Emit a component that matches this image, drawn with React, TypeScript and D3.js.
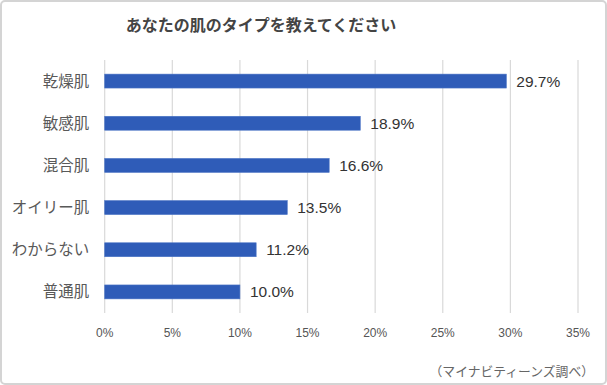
import { useEffect, useRef } from 'react';
import * as d3 from 'd3';

const categories = ['乾燥肌', '敏感肌', '混合肌', 'オイリー肌', 'わからない', '普通肌'];
const values = [29.7, 18.9, 16.6, 13.5, 11.2, 10.0];
const tickValues = [0, 5, 10, 15, 20, 25, 30, 35];

const title = 'あなたの肌のタイプを教えてください';
const source = '（マイナビティーンズ調べ）';

const W = 607;
const H = 385;
const jpFont = '"Noto Sans CJK JP", "Noto Sans", sans-serif';
const numFont = '"Liberation Sans", Arial, sans-serif';

export default function App() {
  const svgRef = useRef<SVGSVGElement>(null);

  useEffect(() => {
    if (!svgRef.current) return;
    const svg = d3.select(svgRef.current);
    svg.selectAll('*').remove();

    const margin = { top: 60, right: 29, bottom: 72, left: 104.7 };
    const innerWidth = W - margin.left - margin.right;
    const innerHeight = H - margin.top - margin.bottom;

    // frame
    svg.append('rect')
      .attr('x', 1)
      .attr('y', 1)
      .attr('width', W - 2)
      .attr('height', H - 2)
      .attr('rx', 4)
      .attr('fill', '#fff')
      .attr('stroke', '#d4d4d4')
      .attr('stroke-width', 2);

    svg.append('text')
      .attr('x', 261)
      .attr('y', 31)
      .attr('text-anchor', 'middle')
      .attr('font-family', jpFont)
      .attr('font-size', 16)
      .attr('font-weight', 'bold')
      .attr('fill', '#444')
      .text(title);

    const g = svg.append('g')
      .attr('transform', `translate(${margin.left}, ${margin.top})`);

    const x = d3.scaleLinear().domain([0, 35]).range([0, innerWidth]);
    const y = d3.scaleBand()
      .domain(categories)
      .range([0, innerHeight])
      .paddingInner(0.67)
      .paddingOuter(0.335);

    // grid
    g.selectAll('.grid')
      .data(tickValues)
      .enter()
      .append('line')
      .attr('x1', d => x(d))
      .attr('x2', d => x(d))
      .attr('y1', 0)
      .attr('y2', innerHeight)
      .attr('stroke', '#d9d9d9')
      .attr('stroke-width', 1.2);

    // x tick labels
    g.selectAll('.tick-label')
      .data(tickValues)
      .enter()
      .append('text')
      .attr('x', d => x(d))
      .attr('y', innerHeight + 24)
      .attr('text-anchor', 'middle')
      .attr('font-family', numFont)
      .attr('font-size', 12)
      .attr('fill', '#555')
      .text(d => `${d}%`);

    // bars
    g.selectAll('.bar')
      .data(values)
      .enter()
      .append('rect')
      .attr('x', 0)
      .attr('y', (_, i) => y(categories[i]) || 0)
      .attr('width', d => x(d))
      .attr('height', y.bandwidth())
      .attr('fill', '#2f5cb8')
      .attr('stroke', '#4a73c4')
      .attr('stroke-width', 0.6);

    // value labels
    g.selectAll('.value')
      .data(values)
      .enter()
      .append('text')
      .attr('x', d => x(d) + 10)
      .attr('y', (_, i) => (y(categories[i]) || 0) + y.bandwidth() / 2)
      .attr('dy', '0.36em')
      .attr('font-family', numFont)
      .attr('font-size', 15.5)
      .attr('fill', '#333')
      .text(d => `${d.toFixed(1)}%`);

    // category labels
    g.selectAll('.cat')
      .data(categories)
      .enter()
      .append('text')
      .attr('x', -15.5)
      .attr('y', d => (y(d) || 0) + y.bandwidth() / 2)
      .attr('dy', '0.36em')
      .attr('text-anchor', 'end')
      .attr('font-family', jpFont)
      .attr('font-size', 15.5)
      .attr('fill', '#595959')
      .text(d => d);

    // source note
    svg.append('text')
      .attr('x', 594)
      .attr('y', 376)
      .attr('text-anchor', 'end')
      .attr('font-family', jpFont)
      .attr('font-size', 12.8)
      .attr('fill', '#666')
      .text(source);
  }, []);

  return (
    <svg
      ref={svgRef}
      width={W}
      height={H}
      style={{ position: 'absolute', left: 0, top: 0, display: 'block' }}
    />
  );
}
